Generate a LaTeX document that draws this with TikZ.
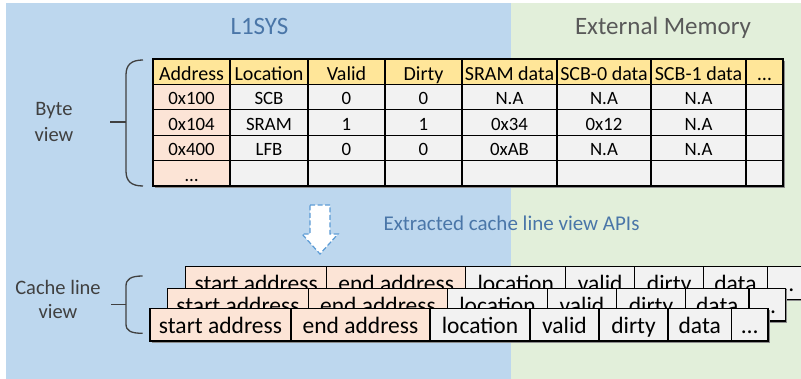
\documentclass[tikz,border=0pt]{standalone}
\usepackage{fontspec}
\setmainfont{Carlito}

\definecolor{bgblue}{HTML}{BDD7EE}
\definecolor{bggreen}{HTML}{E2EFDA}
\definecolor{hdrfill}{HTML}{FFE699}
\definecolor{peach}{HTML}{FCE4D6}
\definecolor{cellgray}{HTML}{F2F2F2}
\definecolor{titleblue}{HTML}{4A76A8}
\definecolor{labelgray}{HTML}{404040}
\definecolor{memgray}{HTML}{595959}
\definecolor{arrowblue}{HTML}{5B9BD5}
\definecolor{shadowgray}{HTML}{8C8C8C}

\tikzset{
  tcell/.style={draw=black, line width=1.1pt, anchor=north west, inner sep=0pt,
    outer sep=0pt, minimum height=25.4pt,
    font=\fontsize{18.8}{20}\selectfont, text height=16.1pt, text depth=0.6pt},
  thead/.style={tcell, fill=hdrfill, font=\fontsize{20}{21}\selectfont,
    text height=17.6pt, text depth=0pt},
  taddr/.style={tcell, fill=peach},
  tplain/.style={tcell, fill=cellgray},
  ccell/.style={draw=black, line width=1.1pt, anchor=north west, inner sep=0pt,
    outer sep=0pt, minimum height=32.7pt,
    font=\fontsize{23.5}{25}\selectfont, text height=17.6pt, text depth=0.5pt},
  cpeach/.style={ccell, fill=peach},
  cplain/.style={ccell, fill=cellgray},
  brace/.style={draw=labelgray, line width=1.3pt},
  sidelabel/.style={text=labelgray, font=\fontsize{20.5}{25}\selectfont, anchor=base},
  title/.style={font=\fontsize{25}{30}\selectfont, anchor=base},
}

% one cache line record: #1 name prefix, #2/#3 top-left corner
\newcommand\cacheline[3]{%
  \fill[shadowgray] (#2+1.6,#3+1.6) rectangle ++(618,32.7);
  \node[cpeach, minimum width=141pt] (#1-s) at (#2,#3) {start address};
  \node[cpeach, minimum width=139pt] (#1-e) at (#1-s.north east) {end address};
  \node[cplain, minimum width=100pt] (#1-l) at (#1-e.north east) {location};
  \node[cplain, minimum width=69pt]  (#1-v) at (#1-l.north east) {valid};
  \node[cplain, minimum width=69pt]  (#1-d) at (#1-v.north east) {dirty};
  \node[cplain, minimum width=63.5pt] (#1-a) at (#1-d.north east) {data};
  \node[cplain, minimum width=36.5pt] (#1-m) at (#1-a.north east) {\dots};
}

\begin{document}
\begin{tikzpicture}[x=1pt, y=-1pt]
\useasboundingbox (0,0) rectangle (801,379);
\clip (0,0) rectangle (801,379);

% domains
\fill[white] (0,0) rectangle (801,379);
\fill[bgblue] (6,3) rectangle (511,379);
\fill[bggreen] (511,3) rectangle (801,379);

\node[title, text=titleblue] (l1sys) at (259.5,35) {L1SYS};
\node[title, text=memgray] (extmem) at (663,35) {External Memory};

% byte view table
\fill[shadowgray] (154.6,60.6) rectangle (784.7,187.6);
\foreach \x/\w/\t [count=\c] in {153/77/Address, 230/78/Location, 308/77/Valid,
    385/77/Dirty, 462/95/SRAM data, 557/94/SCB-0 data, 651/95/SCB-1 data, 746/37/\dots}
  \node[thead, minimum width=\w pt] (h\c) at (\x,59) {\t};

\node[taddr, minimum width=77pt] (ra1) at (153,84.4) {0x100};
\foreach \x/\w/\t [count=\c from 2] in {230/78/SCB, 308/77/0, 385/77/0,
    462/95/N.A, 557/94/N.A, 651/95/N.A, 746/37/{}}
  \node[tplain, minimum width=\w pt] (ra\c) at (\x,84.4) {\t};

\node[taddr, minimum width=77pt] (rb1) at (153,109.8) {0x104};
\foreach \x/\w/\t [count=\c from 2] in {230/78/SRAM, 308/77/1, 385/77/1,
    462/95/0x34, 557/94/0x12, 651/95/N.A, 746/37/{}}
  \node[tplain, minimum width=\w pt] (rb\c) at (\x,109.8) {\t};

\node[taddr, minimum width=77pt] (rc1) at (153,135.2) {0x400};
\foreach \x/\w/\t [count=\c from 2] in {230/78/LFB, 308/77/0, 385/77/0,
    462/95/0xAB, 557/94/N.A, 651/95/N.A, 746/37/{}}
  \node[tplain, minimum width=\w pt] (rc\c) at (\x,135.2) {\t};

\node[taddr, minimum width=77pt] (rd1) at (153,160.6) {\dots};
\foreach \x/\w [count=\c from 2] in {230/78, 308/77, 385/77,
    462/95, 557/94, 651/95, 746/37}
  \node[tplain, minimum width=\w pt] (rd\c) at (\x,160.6) {};

% byte view brace and label
\draw[brace] (143,60) .. controls (131,60) and (126,65) .. (126,75)
  -- (126,171) .. controls (126,181) and (131,186) .. (143,186);
\draw[brace] (110,122) -- (126,122);
\node[sidelabel] (bytea) at (54,116) {Byte};
\node[sidelabel] (byteb) at (54,141.5) {view};

% extraction arrow
\draw[arrowblue, line width=1.2pt, dash pattern=on 5pt off 2.5pt, fill=white]
  (310,205) -- (330,205) -- (330,234) -- (338,234) -- (320,254)
  -- (302,234) -- (310,234) -- cycle;
\node[font=\fontsize{21}{25}\selectfont, text=titleblue, anchor=base] (apis)
  at (511.5,231) {Extracted cache line view APIs};

% stacked cache line records, back to front
\cacheline{cla}{185.7}{266.7}
\cacheline{clb}{167.5}{288.3}
\cacheline{clc}{150}{308.3}

% cache line view brace and label
\draw[brace] (142.7,276) .. controls (131,276) and (126,279) .. (126,286)
  -- (126,324) .. controls (126,331) and (131,333.3) .. (142.7,333.3);
\draw[brace] (111,304.3) -- (126,304.3);
\node[sidelabel] (cachea) at (58,294.3) {Cache line};
\node[sidelabel] (cacheb) at (58,319) {view};
\end{tikzpicture}
\end{document}
